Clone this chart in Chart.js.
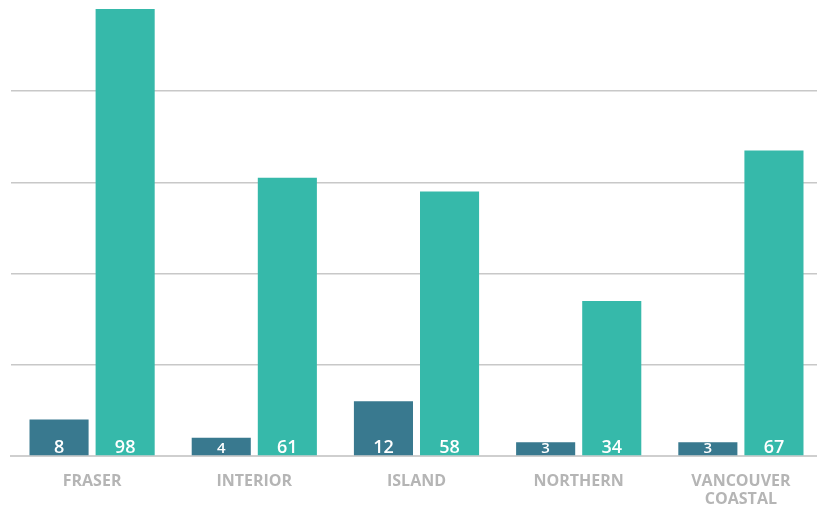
<!DOCTYPE html>
<html>
<head>
<meta charset="utf-8">
<script src="https://cdn.jsdelivr.net/npm/chart.js@4/dist/chart.umd.min.js"></script>
<style>
    html, body { margin: 0; padding: 0; background: #fff; overflow: hidden; }
    #wrap { position: relative; width: 822px; height: 510px; }
</style>
</head>
<body>
<div id="wrap"><canvas id="bar-chart"></canvas></div>
<script>
    "use strict";

    var regions = [["FRASER"], ["INTERIOR"], ["ISLAND"], ["NORTHERN"], ["VANCOUVER", "COASTAL"]];
    var darkValues = [8, 4, 12, 3, 3];
    var lightValues = [98, 61, 58, 34, 67];
    var yTicks = [0, 20, 40, 60, 80, 100];

    // white value labels sitting at the foot of each bar
    var barLabels = {
        id: "barLabels",
        afterDatasetsDraw: function (chart) {
            var ctx = chart.ctx;
            var base = chart.scales.y.getPixelForValue(0);
            ctx.save();
            ctx.fillStyle = "#ffffff";
            ctx.textAlign = "center";
            ctx.textBaseline = "alphabetic";
            chart.data.datasets.forEach(function (ds, i) {
                chart.getDatasetMeta(i).data.forEach(function (bar, j) {
                    var h = base - bar.y;
                    var size = h < 25 ? 15 : 18;
                    ctx.font = "600 " + size + "px 'Open Sans'";
                    ctx.fillText(String(ds.data[j]), bar.x, base - 3);
                });
            });
            ctx.restore();
        }
    };

    new Chart(document.getElementById("bar-chart").getContext("2d"), {
        type: "bar",
        data: {
            labels: regions,
            datasets: [
                {
                    label: "A",
                    data: darkValues,
                    backgroundColor: "#39798f",
                    categoryPercentage: 0.815,
                    barPercentage: 0.894
                },
                {
                    label: "B",
                    data: lightValues,
                    backgroundColor: "#36b9aa",
                    categoryPercentage: 0.815,
                    barPercentage: 0.894
                }
            ]
        },
        options: {
            responsive: true,
            maintainAspectRatio: false,
            animation: false,
            layout: { padding: { left: 11, right: 0, top: 0, bottom: 0 } },
            plugins: {
                legend: { display: false },
                tooltip: { enabled: false }
            },
            scales: {
                x: {
                    afterFit: function (axis) { axis.height = 54; },
                    grid: { display: false },
                    border: { display: true, color: "#cfcfcf", width: 2 },
                    ticks: {
                        color: "#b5b5b5",
                        font: { family: "'Open Sans'", size: 16, weight: "bold", lineHeight: 1.15 },
                        padding: 8,
                        maxRotation: 0
                    }
                },
                y: {
                    min: yTicks[0],
                    max: yTicks[yTicks.length - 1],
                    afterBuildTicks: function (axis) {
                        axis.ticks = yTicks.map(function (v) { return { value: v }; });
                    },
                    grid: {
                        color: function (c) {
                            return c.tick && c.tick.value === 100 ? "rgba(0,0,0,0)" : "#c8c8c8";
                        },
                        lineWidth: 1.5,
                        drawTicks: false
                    },
                    border: { display: false },
                    ticks: { display: false }
                }
            }
        },
        plugins: [barLabels]
    });
</script>
</body>
</html>
